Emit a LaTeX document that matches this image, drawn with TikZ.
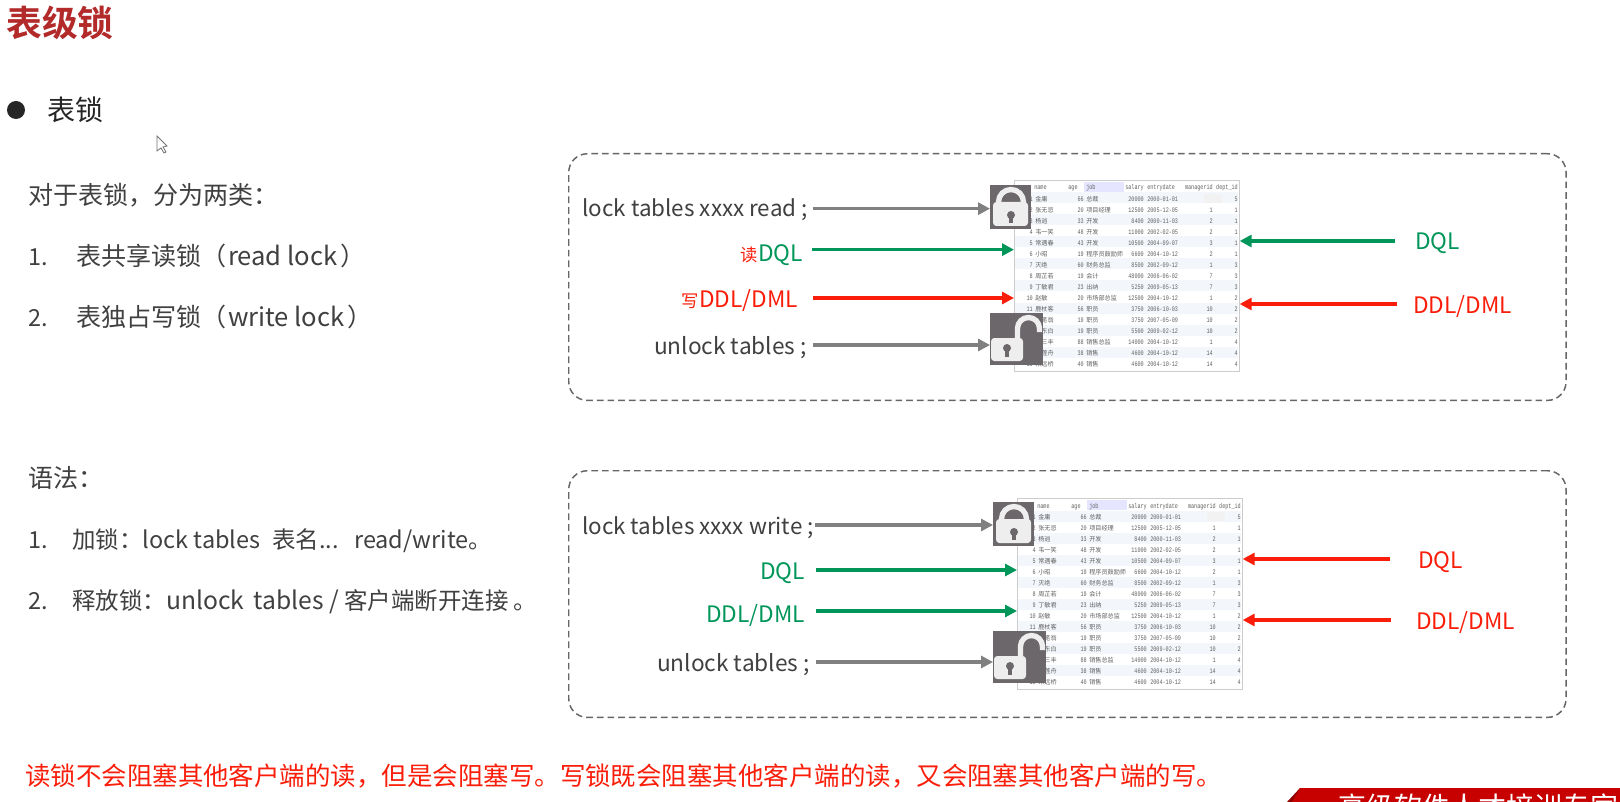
\documentclass[tikz,border=0pt]{standalone}
\usepackage{fontspec}
\setmainfont{Noto Sans CJK SC}
\newfontfamily\boldcjk[BoldFont={Noto Sans CJK SC Bold}]{Noto Sans CJK SC}
\newfontfamily\tblmono[FakeStretch=0.74]{Liberation Mono}
\newfontfamily\tblcjk{Noto Sans CJK SC}
\usetikzlibrary{arrows.meta,calc}
\definecolor{txt}{RGB}{64,64,64}
\definecolor{ttl}{RGB}{178,42,42}
\definecolor{grn}{RGB}{0,150,90}
\definecolor{rd}{RGB}{250,30,10}
\definecolor{ar}{RGB}{128,128,128}
\definecolor{lk}{RGB}{108,103,107}
\definecolor{lkw}{RGB}{238,238,238}
\definecolor{rowb}{RGB}{243,247,252}
\newcommand{\latf}{\fontsize{19.2}{20}\selectfont}
\newcommand{\wdf}{\fontsize{18.5}{20}\selectfont}
\tikzset{
  body/.style={inner sep=0pt,text=txt,font=\fontsize{17.6}{20}\selectfont,anchor=west,text height=16pt,text depth=2.5pt},
  lab/.style={inner sep=0pt,text=txt,font=\fontsize{17}{20}\selectfont,text height=16pt,text depth=2.5pt},
  lgrn/.style={lab,text=grn},
  lrd/.style={lab,text=rd},
  conn/.style={line width=2.3pt,-{Triangle[length=9pt,width=9pt]}},
  cgray/.style={conn,draw=ar},
  cgrn/.style={conn,draw=grn},
  crd/.style={conn,draw=rd},
  dbox/.style={draw=black!60,line width=1.1pt,dash pattern=on 5pt off 3pt,rounded corners=14pt,minimum width=748pt,minimum height=185pt,inner sep=0pt,anchor=north west},
  tcell/.style={inner sep=0pt,text=black!62,font=\tblmono\fontsize{5.2}{6}\selectfont},
  ccell/.style={inner sep=0pt,text=black!62,font=\tblcjk\fontsize{4.6}{6}\selectfont},
  tablepic/.pic={
    \node[draw=black!20,line width=.5pt,minimum width=168.75pt,minimum height=143pt,inner sep=0pt,anchor=north west] (fr) at (0,0) {};
    \foreach \r in {0,2,...,14}{\fill[rowb] (1,{12.5+11*\r}) rectangle (224,{23.5+11*\r});}
    \fill[blue!10] (70,2) rectangle (110,12);
    \fill[black!5] (190,14) rectangle (208,23);
    \node[tcell,anchor=base west] (hn) at (20,10) {name};
    \node[tcell,anchor=base] (ha) at (59,10) {age};
    \node[tcell,anchor=base west] (hj) at (72,10) {job};
    \node[tcell,anchor=base east] (hs) at (130,10) {salary};
    \node[tcell,anchor=base west] (hd) at (133,10) {entrydate};
    \node[tcell,anchor=base east] (hm) at (199,10) {managerid};
    \node[tcell,anchor=base east] (hp) at (224,10) {dept\_id};
    \foreach \i/\nm/\ag/\jb/\sa/\dt/\mg/\dp in {
      1/金庸/66/总裁/20000/2000-01-01//5,
      2/张无忌/20/项目经理/12500/2005-12-05/1/1,
      3/杨逍/33/开发/8400/2000-11-03/2/1,
      4/韦一笑/48/开发/11000/2002-02-05/2/1,
      5/常遇春/43/开发/10500/2004-09-07/3/1,
      6/小昭/19/程序员鼓励师/6600/2004-10-12/2/1,
      7/灭绝/60/财务总监/8500/2002-09-12/1/3,
      8/周芷若/19/会计/48000/2006-06-02/7/3,
      9/丁敏君/23/出纳/5250/2009-05-13/7/3,
      10/赵敏/20/市场部总监/12500/2004-10-12/1/2,
      11/鹿杖客/56/职员/3750/2006-10-03/10/2,
      12/鹤笔翁/19/职员/3750/2007-05-09/10/2,
      13/方东白/19/职员/5500/2009-02-12/10/2,
      14/张三丰/88/销售总监/14000/2004-10-12/1/4,
      15/俞莲舟/38/销售/4600/2004-10-12/14/4,
      16/宋远桥/40/销售/4600/2004-10-12/14/4}{
      \pgfmathsetmacro\yy{10.5+11*\i}
      \node[tcell,anchor=base east] (id\i) at (19,\yy) {\i};
      \node[ccell,anchor=base west] (nm\i) at (21,\yy) {\nm};
      \node[tcell,anchor=base east] (ag\i) at (70,\yy) {\ag};
      \node[ccell,anchor=base west] (jb\i) at (72,\yy) {\jb};
      \node[tcell,anchor=base east] (sa\i) at (130,\yy) {\sa};
      \node[tcell,anchor=base west] (dt\i) at (133,\yy) {\dt};
      \node[tcell,anchor=base east] (mg\i) at (199,\yy) {\mg};
      \node[tcell,anchor=base east] (dp\i) at (224,\yy) {\dp};
    }
  },
  lockclosed/.pic={
    \node[fill=lk,minimum width=30.75pt,minimum height=33pt,inner sep=0pt,anchor=north west] (bg) at (0,0) {};
    \draw[lkw,line width=4pt] (8.5,20) -- (8.5,17) arc[start angle=180,end angle=0,x radius=12.5,y radius=-12.5] -- (33.5,20);
    \fill[lkw,rounded corners=2.5pt] (3,17) rectangle (38,41);
    \fill[lk] (21,30) circle[radius=4];
    \fill[lk] (19,30) rectangle (23,38);
  },
  lockopen/.pic={
    \node[fill=lk,minimum width=39.75pt,minimum height=39pt,inner sep=0pt,anchor=north west] (bg) at (0,0) {};
    \draw[lkw,line width=4pt] (27.5,26) -- (27.5,15.5) arc[start angle=180,end angle=0,x radius=11,y radius=-11] -- (49.5,19);
    \fill[lkw,rounded corners=2.5pt] (1,25) rectangle (33,48);
    \fill[lk] (17,35) circle[radius=4];
    \fill[lk] (15,35) rectangle (19,44);
  }
}
\begin{document}
\begin{tikzpicture}[x=0.75pt,y=-0.75pt]
\useasboundingbox (0,0) rectangle (1620,802);
\fill[white] (0,0) rectangle (1620,802);
% titles
\node[inner sep=0pt,anchor=west,text=ttl,font=\boldcjk\bfseries\fontsize{26.8}{30}\selectfont] (title) at (6,23) {表级锁};
\node[circle,fill=black!85,minimum size=13.5pt,inner sep=0pt] (bul) at (16,110) {};
\node[body,text=black!85,font=\fontsize{21}{24}\selectfont] (head) at (47,112) {表锁};
% cursor
\draw[black!55,line width=.6pt] (157,136) -- (157,151) -- (161,148) -- (164,153) -- (166,152) -- (163,147) -- (167,146) -- cycle;
% left text
\node[body,font=\fontsize{18.8}{20}\selectfont] (t0) at (28,196) {对于表锁，分为两类：};
\node[body] (t1n) at (28,257) {1.};
\node[body,font=\fontsize{18.8}{20}\selectfont] (t1) at (76,257) {表共享读锁（\hspace{1pt}{\latf read lock}\hspace{2pt}）};
\node[body] (t2n) at (28,317) {2.};
\node[body,font=\fontsize{18.8}{20}\selectfont] (t2) at (76,317) {表独占写锁（\hspace{1pt}{\latf write lock}\hspace{2pt}）};
\node[body,font=\fontsize{18.8}{20}\selectfont] (t3) at (28,478) {语法：};
\node[body] (t4n) at (28,539) {1.};
\node[body] (t4) at (72,539) {加锁：lock tables\hspace{9pt}表名...\hspace{11.5pt}read/write。};
\node[body] (t5n) at (28,600) {2.};
\node[body] (t5) at (72,600) {释放锁：{\wdf unlock\hspace{7pt}tables / }客户端断开连接 。};
\node[body,text=rd,font=\fontsize{19.1}{22}\selectfont] (t6) at (25,776) {读锁不会阻塞其他客户端的读，但是会阻塞写。写锁既会阻塞其他客户端的读，又会阻塞其他客户端的写。};
% dashed boxes
\node[dbox] (boxA) at (568,153) {};
\node[dbox] (boxB) at (568,470) {};
% tables and locks
\pic (ta) at (1014,180) {tablepic};
\pic (tb) at (1017,498) {tablepic};
\pic (la) at (990,185) {lockclosed};
\pic (lb) at (990,313) {lockopen};
\pic (lc) at (993,502) {lockclosed};
\pic (ld) at (993,631) {lockopen};
% labels, box A
\node[lab,anchor=east,font=\fontsize{16.8}{20}\selectfont] (a1) at (808,208) {lock tables xxxx read ;};
\node[lgrn,anchor=east] (a2) at (803,253) {\textcolor{rd}{\fontsize{13}{15}\selectfont 读}DQL};
\node[lrd,anchor=east] (a3) at (798,298) {{\fontsize{13}{15}\selectfont 写}DDL/DML};
\node[lab,anchor=east] (a4) at (807,345) {unlock tables ;};
\node[lgrn,anchor=west] (a5) at (1415,241) {DQL};
\node[lrd,anchor=west] (a6) at (1413,304) {DDL/DML};
% labels, box B
\node[lab,anchor=east,font=\fontsize{16.8}{20}\selectfont] (b1) at (814,525) {lock tables xxxx write ;};
\node[lgrn,anchor=east] (b2) at (805,570) {DQL};
\node[lgrn,anchor=east] (b3) at (805,613) {DDL/DML};
\node[lab,anchor=east] (b4) at (810,662) {unlock tables ;};
\node[lrd,anchor=west] (b5) at (1418,559) {DQL};
\node[lrd,anchor=west] (b6) at (1416,620) {DDL/DML};
% connectors, box A
\draw[cgray,shorten <=3.5pt] ([yshift=-.5pt]a1.east) -- ([yshift=-.5pt]a1.east -| labg.west);
\draw[cgrn,shorten <=7pt] ([yshift=2.5pt]a2.east) -- ([yshift=2.5pt]a2.east -| tafr.west);
\draw[crd,shorten <=11pt] (a3.east) -- (a3.east -| tafr.west);
\draw[cgray,shorten <=4.5pt] (a4.east) -- (a4.east -| lbbg.west);
\draw[cgrn,shorten <=15pt] (a5.west) -- (a5.west -| tafr.east);
\draw[crd,shorten <=12pt] (a6.west) -- (a6.west -| tafr.east);
% connectors, box B
\draw[cgray,shorten <=1pt] (b1.east) -- (b1.east -| lcbg.west);
\draw[cgrn,shorten <=8pt] (b2.east) -- (b2.east -| tbfr.west);
\draw[cgrn,shorten <=8pt] ([yshift=1.5pt]b3.east) -- ([yshift=1.5pt]b3.east -| tbfr.west);
\draw[cgray,shorten <=4.5pt] (b4.east) -- (b4.east -| ldbg.west);
\draw[crd,shorten <=21pt] (b5.west) -- (b5.west -| tbfr.east);
\draw[crd,shorten <=19pt] (b6.west) -- (b6.west -| tbfr.east);
% banner
\begin{scope}
\clip (0,0) rectangle (1620,802);
\fill[red!55!black] (1287,802) -- (1300,788) -- (1306,802) -- cycle;
\fill[red!78!black] (1300,788) -- (1620,788) -- (1620,802) -- (1292,802) -- cycle;
\node[inner sep=0pt,anchor=west,text=white,font=\fontsize{21}{24}\selectfont] (ban) at (1338,807) {高级软件人才培训专家};
\end{scope}
\end{tikzpicture}
\end{document}
